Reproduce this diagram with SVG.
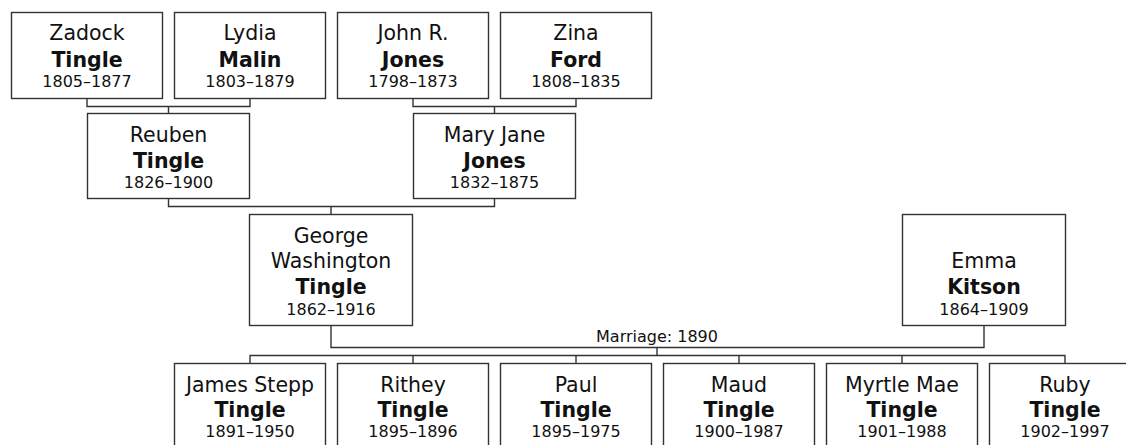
<svg xmlns="http://www.w3.org/2000/svg" width="1126" height="445" viewBox="0 0 1126 445">
<style>
rect.box{fill:#fff;stroke:#333;stroke-width:1.4}
.c path{fill:none;stroke:#333;stroke-width:1.4}
text{font-family:"DejaVu Sans",Verdana,sans-serif;fill:#111;text-anchor:middle}
.n{font-size:20.5px}
.s{font-size:20.5px;font-weight:bold}
.y{font-size:16px}
.m{font-size:16px}
</style>
<rect width="1126" height="445" fill="#fff"/>
<g id="connectors" class="c">
<path d="M87 98.5V106.5H250V98.5M168.5 106.5V113.5"/>
<path d="M413 98.5V106.5H576V98.5M494.5 106.5V113.5"/>
<path d="M168.5 198.5V206.5H494.5V198.5M331 206.5V214.5"/>
<path d="M331 325.5V347.5H984V325.5"/>
<path d="M657 347.5V355.5M250 363.5V355.5H1065V363.5M413 355.5V363.5M576 355.5V363.5M739 355.5V363.5M902 355.5V363.5"/>
</g>
<text class="m" x="657" y="342">Marriage: 1890</text>
<g id="zadock"><rect class="box" x="11.5" y="12.5" width="151" height="86"/><text class="n" x="87" y="40">Zadock</text><text class="s" x="87" y="67">Tingle</text><text class="y" x="87" y="87">1805–1877</text></g>
<g id="lydia"><rect class="box" x="174.5" y="12.5" width="151" height="86"/><text class="n" x="250" y="40">Lydia</text><text class="s" x="250" y="67">Malin</text><text class="y" x="250" y="87">1803–1879</text></g>
<g id="john"><rect class="box" x="337.5" y="12.5" width="151" height="86"/><text class="n" x="413" y="40">John R.</text><text class="s" x="413" y="67">Jones</text><text class="y" x="413" y="87">1798–1873</text></g>
<g id="zina"><rect class="box" x="500.5" y="12.5" width="151" height="86"/><text class="n" x="576" y="40">Zina</text><text class="s" x="576" y="67">Ford</text><text class="y" x="576" y="87">1808–1835</text></g>
<g id="reuben"><rect class="box" x="87.5" y="113.5" width="162" height="85"/><text class="n" x="168.5" y="142">Reuben</text><text class="s" x="168.5" y="168">Tingle</text><text class="y" x="168.5" y="188">1826–1900</text></g>
<g id="maryjane"><rect class="box" x="413.5" y="113.5" width="162" height="85"/><text class="n" x="494.5" y="142">Mary Jane</text><text class="s" x="494.5" y="168">Jones</text><text class="y" x="494.5" y="188">1832–1875</text></g>
<g id="george"><rect class="box" x="249.5" y="214.5" width="163" height="111"/><text class="n" x="331" y="243">George</text><text class="n" x="331" y="268">Washington</text><text class="s" x="331" y="294">Tingle</text><text class="y" x="331" y="315">1862–1916</text></g>
<g id="emma"><rect class="box" x="902.5" y="214.5" width="163" height="111"/><text class="n" x="984" y="268">Emma</text><text class="s" x="984" y="294">Kitson</text><text class="y" x="984" y="315">1864–1909</text></g>
<g id="james"><rect class="box" x="174.5" y="363.5" width="151" height="86"/><text class="n" x="250" y="392">James Stepp</text><text class="s" x="250" y="417">Tingle</text><text class="y" x="250" y="437">1891–1950</text></g>
<g id="rithey"><rect class="box" x="337.5" y="363.5" width="151" height="86"/><text class="n" x="413" y="392">Rithey</text><text class="s" x="413" y="417">Tingle</text><text class="y" x="413" y="437">1895–1896</text></g>
<g id="paul"><rect class="box" x="500.5" y="363.5" width="151" height="86"/><text class="n" x="576" y="392">Paul</text><text class="s" x="576" y="417">Tingle</text><text class="y" x="576" y="437">1895–1975</text></g>
<g id="maud"><rect class="box" x="663.5" y="363.5" width="151" height="86"/><text class="n" x="739" y="392">Maud</text><text class="s" x="739" y="417">Tingle</text><text class="y" x="739" y="437">1900–1987</text></g>
<g id="myrtle"><rect class="box" x="826.5" y="363.5" width="151" height="86"/><text class="n" x="902" y="392">Myrtle Mae</text><text class="s" x="902" y="417">Tingle</text><text class="y" x="902" y="437">1901–1988</text></g>
<g id="ruby"><rect class="box" x="989.5" y="363.5" width="151" height="86"/><text class="n" x="1065" y="392">Ruby</text><text class="s" x="1065" y="417">Tingle</text><text class="y" x="1065" y="437">1902–1997</text></g>
</svg>
